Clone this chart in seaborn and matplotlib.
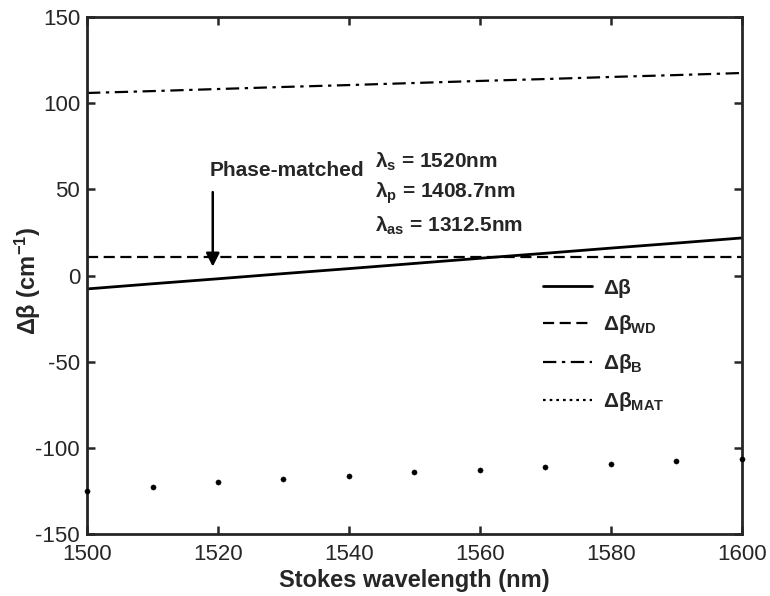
import numpy as np
import pandas as pd
import matplotlib
matplotlib.use('Agg')
import matplotlib.pyplot as plt
from matplotlib.lines import Line2D
import seaborn as sns

# Data (Stokes wavelength in nm, delta beta in cm^-1)
wavelength = [1500, 1510, 1520, 1530, 1540, 1550, 1560, 1570, 1580, 1590, 1600]
dbeta = [-7.8, -4.8, -1.9, 1.1, 4.0, 7.0, 10.0, 12.9, 15.9, 18.8, 21.8]
dbeta_wd = [10.8, 10.8, 10.8, 10.8, 10.8, 10.8, 10.8, 10.8, 10.8, 10.8, 10.8]
dbeta_b = [105.9, 107.0, 108.2, 109.4, 110.5, 111.7, 112.9, 114.0, 115.2, 116.3, 117.5]
dbeta_mat = [-125.1, -122.6, -120.0, -118.3, -116.4, -113.9, -113.1, -111.1, -109.4, -107.7, -106.7]

xticks = [1500, 1520, 1540, 1560, 1580, 1600]
yticks = [-150, -100, -50, 0, 50, 100, 150]

df = pd.DataFrame({'wl': wavelength, 'db': dbeta, 'wd': dbeta_wd,
                   'b': dbeta_b, 'mat': dbeta_mat})

sns.set_style('ticks')
plt.rcParams['font.family'] = ['Liberation Sans', 'DejaVu Sans']
plt.rcParams['mathtext.default'] = 'regular'
plt.rcParams['axes.unicode_minus'] = False

fig = plt.figure(figsize=(7.7, 5.96), dpi=100)
ax = fig.add_axes([0.113, 0.104, 0.8506, 0.8675])

sns.lineplot(data=df, x='wl', y='db', color='black', lw=2.0, ax=ax)
sns.lineplot(data=df, x='wl', y='wd', color='black', lw=1.6, ax=ax)
ax.lines[-1].set_dashes([5, 2.5])
sns.lineplot(data=df, x='wl', y='b', color='black', lw=1.6, ax=ax)
ax.lines[-1].set_dashes([6, 2.5, 1.5, 2.5])
sns.scatterplot(data=df, x='wl', y='mat', color='black', s=14, marker='o',
                edgecolor='black', ax=ax, clip_on=False, zorder=5)

ax.set_xlim(1500, 1600)
ax.set_ylim(-150, 150)
ax.set_xticks(xticks)
ax.set_yticks(yticks)
ax.tick_params(direction='in', length=6, width=1.8, top=True, right=True,
               labelsize=16)
ax.tick_params(axis='x', pad=7)
ax.tick_params(axis='y', pad=5)
for s in ax.spines.values():
    s.set_linewidth(2.0)

ax.set_xlabel('Stokes wavelength (nm)', fontsize=17, fontweight='bold', labelpad=3)
ax.set_ylabel(r'Δβ (cm$^{-1}$)', fontsize=17, fontweight='bold')
ax.yaxis.set_label_coords(-0.067, 0.49)

# annotations
ax.annotate('', xy=(1519.2, 3.5), xytext=(1519.2, 50),
            arrowprops=dict(arrowstyle='-|>', color='black', lw=1.8,
                            mutation_scale=20))
ax.text(1542.4, 61, 'Phase-matched', ha='right', va='center',
        fontsize=15, fontweight='bold')
ax.text(1544.0, 66, r'λ$_s$ = 1520nm', ha='left', va='center',
        fontsize=15, fontweight='bold')
ax.text(1544.0, 47.5, r'λ$_p$ = 1408.7nm', ha='left', va='center',
        fontsize=15, fontweight='bold')
ax.text(1544.0, 29, r'λ$_{as}$ = 1312.5nm', ha='left', va='center',
        fontsize=15, fontweight='bold')

handles = [Line2D([], [], color='black', lw=2.0),
           Line2D([], [], color='black', lw=1.6, dashes=[5, 2.5]),
           Line2D([], [], color='black', lw=1.6, dashes=[6, 2.5, 1.5, 2.5]),
           Line2D([], [], color='black', lw=1.6, dashes=[1.2, 1.8])]
labels = ['Δβ', r'Δβ$_{WD}$', r'Δβ$_B$', r'Δβ$_{MAT}$']
ax.legend(handles, labels, loc='upper left', bbox_to_anchor=(0.696, 0.494),
          frameon=False, borderpad=0, borderaxespad=0, handlelength=2.36,
          handletextpad=0.53, labelspacing=0.75,
          prop={'weight': 'bold', 'size': 15})

fig.savefig('out.png', dpi=100)
